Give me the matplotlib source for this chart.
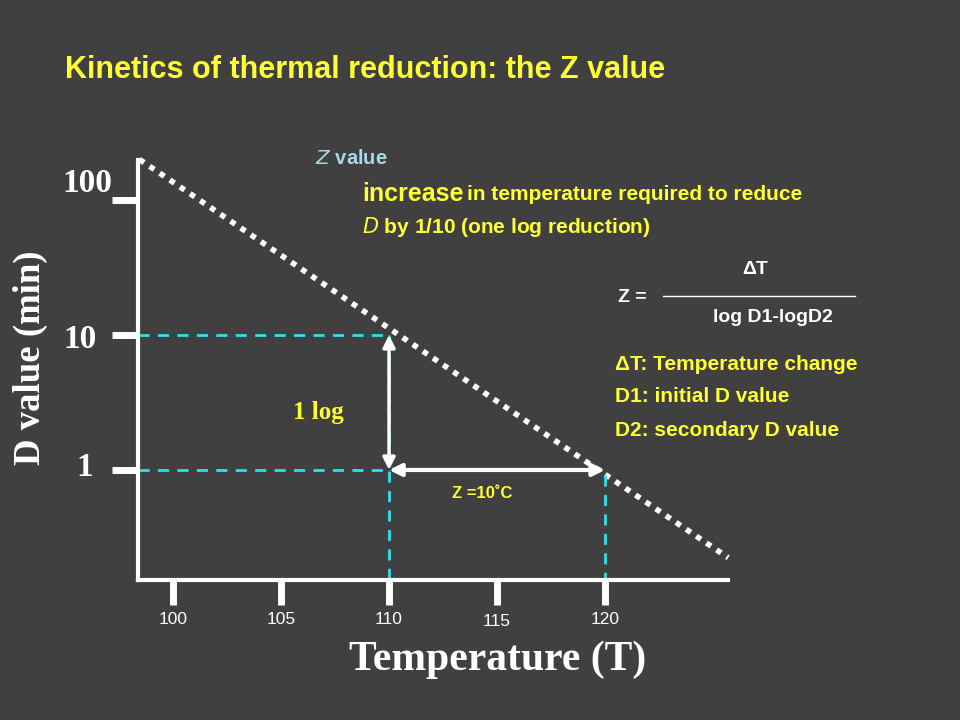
import matplotlib
matplotlib.use("Agg")
import matplotlib.pyplot as plt
from matplotlib.lines import Line2D
import matplotlib.transforms as mt

# data
temps_ticks = [100, 105, 110, 115, 120]
tick_labels = ["100", "105", "110", "115", "120"]
d_ticks = [100, 10, 1]
d_labels = ["100", "10", "1"]
line_T = [98.45, 125.7]
line_D = [10**2.3, 10**-0.65]
T1, T2 = 110, 120
D1, D2 = 10, 1

plt.rcParams['font.family'] = ['Liberation Sans', 'DejaVu Sans']
BG = "#404040"
YEL = "#ffff33"
CYAN = "#33ddee"
W, H = 960, 720
fig = plt.figure(figsize=(9.6, 7.2), dpi=100, facecolor=BG)

def fx(x): return x / W
def fy(y): return 1 - y / H

ax = fig.add_axes([fx(138), fy(580), fx(728) - fx(138), (580 - 160) / H])
ax.set_facecolor(BG)
ax.set_yscale("log")
ax.set_xlim(98.38, 125.69)
ax.set_ylim(10**-0.815, 10**2.296)
for s in ["top", "right"]:
    ax.spines[s].set_visible(False)
for s in ["left", "bottom"]:
    ax.spines[s].set_color("white")
    ax.spines[s].set_linewidth(3)
ax.set_xticks(temps_ticks)
ax.set_xticklabels([])
ax.set_yticks(d_ticks)
ax.set_yticklabels([])
ax.minorticks_off()
ax.tick_params(axis="x", length=18, width=5, color="white", direction="out")
ax.tick_params(axis="y", length=19, width=5, color="white", direction="out")

ax.plot(line_T, line_D, color="white", lw=4, ls=(0, (1, 1.2)), clip_on=False)
ax.plot([98.38, T1], [D1, D1], color=CYAN, lw=2, ls=(0, (4, 3)))
ax.plot([98.38, T1], [D2, D2], color=CYAN, lw=2, ls=(0, (4, 3)))
ax.plot([T1, T1], [D1, 10**-0.815], color=CYAN, lw=2, ls=(0, (4, 3)))
ax.plot([T2, T2], [10**-0.04, 10**-0.815], color=CYAN, lw=2, ls=(0, (4, 3)))
ax.annotate("", xy=(T1, D2), xytext=(T1, D1),
            arrowprops=dict(arrowstyle="<|-|>", color="white", lw=2.5, mutation_scale=18, shrinkA=0, shrinkB=0))
ax.annotate("", xy=(T2, D2), xytext=(T1, D2),
            arrowprops=dict(arrowstyle="<|-|>", color="white", lw=3, mutation_scale=18, shrinkA=0, shrinkB=0))

for t, lab in zip(temps_ticks, tick_labels):
    yy = 622 if lab == "115" else 620
    ax.text(t, fy(yy), lab, transform=mt.blended_transform_factory(ax.transData, fig.transFigure),
            color="white", fontsize=12.5, ha="center", va="center")

serif = "Liberation Serif"
for xpix, ypix, lab in zip([87, 80, 85], [183, 340, 468], d_labels):
    fig.text(fx(xpix), fy(ypix), lab, color="white", fontsize=24, fontweight="bold",
             family=serif, ha="center", va="center")
fig.text(fx(30), fy(358), "D value (min)", color="white", fontsize=26.5, fontweight="bold",
         family=serif, rotation=90, ha="center", va="center")
fig.text(fx(498), fy(660), "Temperature (T)", color="white", fontsize=30, fontweight="bold",
         family=serif, ha="center", va="center")
fig.text(fx(318), fy(412), "1 log", color=YEL, fontsize=18, fontweight="bold",
         family=serif, ha="center", va="center")
fig.text(fx(482), fy(493), "Z =10˚C", color=YEL, fontsize=12, fontweight="bold",
         ha="center", va="center")

fig.text(fx(65), fy(70), "Kinetics of thermal reduction: the Z value", color=YEL,
         fontsize=22, fontweight="bold", ha="left", va="center")
fig.text(fx(315), fy(158), r"$\bf\it{Z}$ value", color="#a8d8ea", fontsize=14.5,
         fontweight="bold", ha="left", va="center")
t1 = fig.text(fx(362), fy(194), "increase", color=YEL, fontsize=18, fontweight="bold",
              ha="left", va="center")
fig.canvas.draw()
bb = t1.get_window_extent()
fig.text(bb.x1 / W + 0.004, fy(195), "in temperature required to reduce", color=YEL,
         fontsize=15, fontweight="bold", ha="left", va="center")
fig.text(fx(362), fy(227), r"$\bf\it{D}$ by 1/10 (one log reduction)", color=YEL,
         fontsize=15, fontweight="bold", ha="left", va="center")

fig.text(fx(755), fy(270), "ΔT", color="white", fontsize=14, fontweight="bold", ha="center", va="center")
fig.add_artist(Line2D([fx(663), fx(855)], [fy(296), fy(296)], color="white", lw=1))
fig.text(fx(773), fy(318), "log D1-logD2", color="white", fontsize=14, fontweight="bold", ha="center", va="center")
fig.text(fx(618), fy(297), "Z =", color="white", fontsize=14, fontweight="bold", ha="left", va="center")
for ypix, s in zip([365, 397, 430], ["ΔT: Temperature change", "D1: initial D value", "D2: secondary D value"]):
    fig.text(fx(615), fy(ypix), s, color=YEL, fontsize=15, fontweight="bold", ha="left", va="center")

fig.savefig("out.png", dpi=100, facecolor=BG)
